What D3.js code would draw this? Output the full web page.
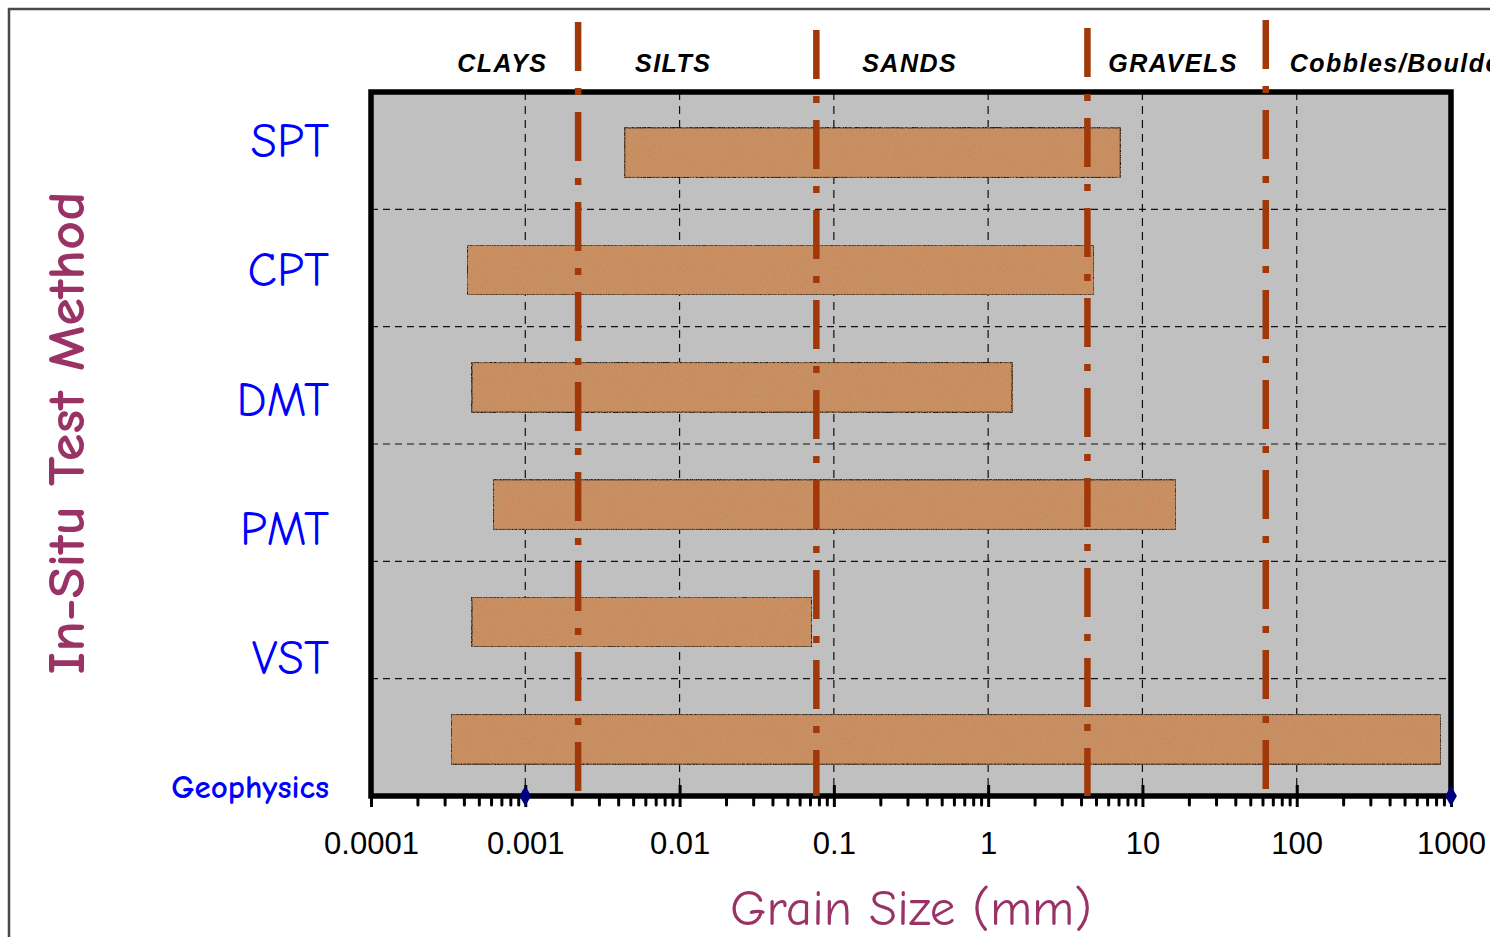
<!DOCTYPE html>
<html>
<head>
<meta charset="utf-8">
<script src="https://cdn.jsdelivr.net/npm/d3@7"></script>
<style>
  body { margin: 0; background: #fff; }
  svg { display: block; }
</style>
</head>
<body>
<div id="chart"></div>
<script>
// Test methods and the grain size range (mm) each one covers
var methods = ["SPT", "CPT", "DMT", "PMT", "VST", "Geophysics"];
var rangeMin = [0.0044, 0.00042, 0.00045, 0.00062, 0.00045, 0.00033];
var rangeMax = [7.2, 4.85, 1.43, 16.5, 0.072, 860];

// soil class boundaries (mm) and the labels over the plot
var boundaries = [0.0022, 0.077, 4.4, 63];
var zoneNames = ["CLAYS", "SILTS", "SANDS", "GRAVELS", "Cobbles/Boulders"];
var zoneLabelAt = [0.00071, 0.0091, 0.31, 15.8, 90];

var decadeTicks = [0.0001, 0.001, 0.01, 0.1, 1, 10, 100, 1000];
var decadeLabels = ["0.0001", "0.001", "0.01", "0.1", "1", "10", "100", "1000"];
var markerAt = [0.001, 1000];

var width = 1490, height = 937;
var plotLeft = 371, plotRight = 1451, plotTop = 92, plotBottom = 796;

var comic = "'Comic Sans MS', 'Comic Neue', 'DejaVu Sans', sans-serif";
var arial = "Arial, 'Liberation Sans', sans-serif";
var brown = "#a0380a";
var purple = "#993366";

var svg = d3.select("#chart").append("svg")
  .attr("width", width)
  .attr("height", height);

// sandy speckle for the bars
var defs = svg.append("defs");
var sand = defs.append("filter").attr("id", "sand")
  .attr("x", 0).attr("y", 0).attr("width", "100%").attr("height", "100%");
sand.append("feTurbulence")
  .attr("type", "fractalNoise").attr("baseFrequency", 0.8)
  .attr("numOctaves", 3).attr("seed", 4).attr("result", "noise");
sand.append("feColorMatrix").attr("in", "noise").attr("type", "matrix")
  .attr("values", "0 0 0 0 0.55  0 0 0 0 0.33  0 0 0 0 0.18  1.6 0 0 0 -0.6")
  .attr("result", "spots");
sand.append("feComposite").attr("in", "spots").attr("in2", "SourceGraphic")
  .attr("operator", "in").attr("result", "clipped");
var merge = sand.append("feMerge");
merge.append("feMergeNode").attr("in", "SourceGraphic");
merge.append("feMergeNode").attr("in", "clipped");

// outer frame
svg.append("rect")
  .attr("x", 9).attr("y", 9)
  .attr("width", 1520).attr("height", 1000)
  .style("fill", "none")
  .style("stroke", "#4a4a4a")
  .style("stroke-width", 2.5);

var x = d3.scaleLog()
  .domain([decadeTicks[0], decadeTicks[decadeTicks.length - 1]])
  .range([plotLeft, plotRight]);

var y = d3.scaleBand()
  .domain(methods)
  .range([plotTop, plotBottom]);

var labelY = d3.scalePoint()
  .domain(methods)
  .range([140, 786]);

// plot background
svg.append("rect")
  .attr("x", plotLeft).attr("y", plotTop)
  .attr("width", plotRight - plotLeft).attr("height", plotBottom - plotTop)
  .style("fill", "#c0c0c0");

// dashed grid
svg.append("g").selectAll("line")
  .data(decadeTicks.slice(1, -1))
  .enter().append("line")
  .attr("x1", function(d) { return x(d); })
  .attr("x2", function(d) { return x(d); })
  .attr("y1", plotTop).attr("y2", plotBottom)
  .style("stroke", "#111")
  .style("stroke-width", 1.2)
  .style("stroke-dasharray", "8,6");

svg.append("g").selectAll("line")
  .data(methods.slice(1))
  .enter().append("line")
  .attr("x1", plotLeft).attr("x2", plotRight)
  .attr("y1", function(d) { return y(d); })
  .attr("y2", function(d) { return y(d); })
  .style("stroke", "#111")
  .style("stroke-width", 1.2)
  .style("stroke-dasharray", "7,5");

// bars
var barH = 50;
svg.append("g").selectAll("rect")
  .data(methods)
  .enter().append("rect")
  .attr("x", function(d, i) { return x(rangeMin[i]); })
  .attr("width", function(d, i) { return x(rangeMax[i]) - x(rangeMin[i]); })
  .attr("y", function(d) { return y(d) + y.bandwidth() / 2 - barH / 2 + 2; })
  .attr("height", barH)
  .style("fill", "#c98b5b")
  .style("stroke", "#1a1a1a")
  .style("stroke-width", 1.5)
  .attr("filter", "url(#sand)");

// plot border
svg.append("rect")
  .attr("x", plotLeft).attr("y", plotTop)
  .attr("width", plotRight - plotLeft).attr("height", plotBottom - plotTop)
  .style("fill", "none")
  .style("stroke", "#000")
  .style("stroke-width", 5.5);

// minor ticks under the axis
var minorTicks = [];
decadeTicks.slice(0, -1).forEach(function(d) {
  for (var k = 2; k <= 9; k++) minorTicks.push(d * k);
});

var minorAxis = d3.axisBottom(x)
  .tickValues(minorTicks)
  .tickSize(9)
  .tickFormat("");

svg.append("g")
  .attr("transform", "translate(0," + plotBottom + ")")
  .call(minorAxis)
  .call(function(g) { g.select(".domain").remove(); })
  .selectAll("line")
  .style("stroke", "#000")
  .style("stroke-width", 3)
  .style("stroke-linecap", "round");

var majorAxis = d3.axisBottom(x)
  .tickValues(decadeTicks)
  .tickSize(11)
  .tickPadding(25)
  .tickFormat(function(d, i) { return decadeLabels[i]; });

var ax = svg.append("g")
  .attr("transform", "translate(0," + plotBottom + ")")
  .call(majorAxis);
ax.select(".domain").remove();
ax.selectAll("line")
  .attr("y1", -11)
  .style("stroke", "#000")
  .style("stroke-width", 3);
ax.selectAll("text")
  .style("font-family", arial)
  .style("font-size", "31px")
  .style("fill", "#000");

// soil class boundaries, dash-dot
var lineTop = [22, 30, 28, 20];
svg.append("g").selectAll("line")
  .data(boundaries)
  .enter().append("line")
  .attr("x1", function(d) { return x(d); })
  .attr("x2", function(d) { return x(d); })
  .attr("y1", function(d, i) { return lineTop[i]; })
  .attr("y2", plotBottom)
  .style("stroke", brown)
  .style("stroke-width", 6.5)
  .style("stroke-dasharray", "49,17,7,17");

// blue markers on the axis
svg.append("g").selectAll("path")
  .data(markerAt)
  .enter().append("path")
  .attr("d", d3.symbol().type(d3.symbolDiamond).size(120))
  .attr("transform", function(d) { return "translate(" + x(d) + "," + plotBottom + ")"; })
  .style("fill", "#000080");

// soil class names
svg.append("g").selectAll("text")
  .data(zoneNames)
  .enter().append("text")
  .attr("x", function(d, i) { return x(zoneLabelAt[i]); })
  .attr("y", 72)
  .attr("text-anchor", function(d, i) { return i === zoneNames.length - 1 ? "start" : "middle"; })
  .style("font-family", arial)
  .style("font-size", "25px")
  .style("font-weight", "bold")
  .style("font-style", "italic")
  .style("letter-spacing", "1.5px")
  .style("fill", "#000")
  .text(function(d) { return d; });

// method names
svg.append("g").selectAll("text")
  .data(methods)
  .enter().append("text")
  .attr("x", 329)
  .attr("y", function(d) { return labelY(d); })
  .attr("dy", "0.36em")
  .attr("text-anchor", "end")
  .style("font-family", comic)
  .style("font-size", function(d, i) { return i === methods.length - 1 ? "33px" : "48px"; })
  .style("font-weight", function(d, i) { return i === methods.length - 1 ? "bold" : "normal"; })
  .style("fill", "#0000ff")
  .text(function(d) { return d; });

// axis titles
svg.append("text")
  .attr("transform", "translate(84,433) rotate(-90)")
  .attr("text-anchor", "middle")
  .attr("textLength", 483)
  .attr("lengthAdjust", "spacingAndGlyphs")
  .style("font-family", comic)
  .style("font-size", "53px")
  .style("font-weight", "bold")
  .style("fill", purple)
  .text("In-Situ Test Method");

svg.append("text")
  .attr("x", 911)
  .attr("y", 925)
  .attr("text-anchor", "middle")
  .style("font-family", comic)
  .style("font-size", "51px")
  .style("fill", purple)
  .text("Grain Size (mm)");
</script>
</body>
</html>
